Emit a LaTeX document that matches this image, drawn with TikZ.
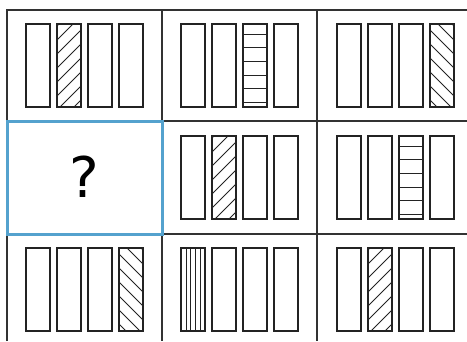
\documentclass[tikz,border=0pt]{standalone}
\usepackage{fontspec}
\newfontfamily\quessfont{DejaVu Sans}
\definecolor{GridClr}{RGB}{50,50,50}
\definecolor{BarClr}{RGB}{35,35,35}
\definecolor{BlueClr}{RGB}{84,162,206}

\tikzset{
  gridline/.style={line width=1.6pt,color=GridClr},
  barline/.style={line width=1.3pt,color=BarClr},
  hatchline/.style={line width=0.9pt,color=BarClr},
}

% one bar: #1 left, #2 top (pixel units, y downwards)
\newcommand{\barplain}[2]{\draw[barline] (#1,#2) rectangle ++(24,83);}
\newcommand{\barslash}[2]{%
  \begin{scope}
    \clip (#1,#2) rectangle ++(24,83);
    \foreach \k in {2,16,...,110} \draw[hatchline] (#1,#2+\k) -- ++(24,-24);
  \end{scope}
  \barplain{#1}{#2}}
\newcommand{\barback}[2]{%
  \begin{scope}
    \clip (#1,#2) rectangle ++(24,83);
    \foreach \k in {2,16,...,110} \draw[hatchline] (#1,#2+\k-24) -- ++(24,24);
  \end{scope}
  \barplain{#1}{#2}}
\newcommand{\barhoriz}[2]{%
  \foreach \j in {0,...,5} \draw[hatchline] (#1,#2+10+13.7*\j) -- ++(24,0);
  \barplain{#1}{#2}}
\newcommand{\barvert}[2]{%
  \foreach \j in {1,...,4} \draw[hatchline,line width=0.6pt] (#1+4.8*\j,#2) -- ++(0,83);
  \barplain{#1}{#2}}
\newcommand{\DrawBar}[3]{\csname bar#1\endcsname{#2}{#3}}

\begin{document}
\begin{tikzpicture}[x=1pt,y=-1pt]
\useasboundingbox (0,0) rectangle (467,341);

% grid
\draw[gridline] (7,341) -- (7,10) -- (467,10);
\draw[gridline] (162,10) -- (162,341);
\draw[gridline] (317,10) -- (317,341);
\draw[gridline] (7,121) -- (467,121);
\draw[gridline] (7,234) -- (467,234);

% bars of each cell
\foreach \cx/\cy/\ta/\tb/\tc/\td in {
    26/24/plain/slash/plain/plain,
    181/24/plain/plain/horiz/plain,
    337/24/plain/plain/plain/back,
    181/136/plain/slash/plain/plain,
    337/136/plain/plain/horiz/plain,
    26/248/plain/plain/plain/back,
    181/248/vert/plain/plain/plain,
    337/248/plain/slash/plain/plain}
  \foreach \t [count=\i from 0] in {\ta,\tb,\tc,\td}
    \DrawBar{\t}{\cx+31*\i}{\cy};

% missing cell
\draw[BlueClr,line width=3pt] (7,121) rectangle (162,234);
\node[font=\quessfont\fontsize{56}{56}\selectfont] (quest) at (84.5,177) {?};

\end{tikzpicture}
\end{document}
